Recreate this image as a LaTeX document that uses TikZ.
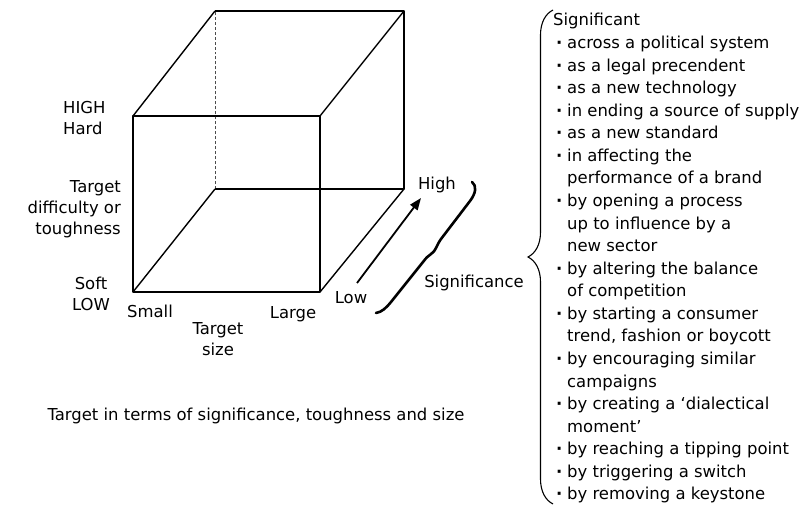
\documentclass[tikz,border=0pt]{standalone}
\usepackage{fontspec}
\setmainfont{DejaVu Sans}
\usetikzlibrary{decorations.pathreplacing,arrows.meta}
\begin{document}
\begin{tikzpicture}[x=1bp,y=-1bp,
  edge/.style={line width=1.4bp,line join=round},
  hidden/.style={line width=0.7bp,densely dashed,black!70},
  lbl/.style={inner sep=0,font=\fontsize{16.5}{21}\selectfont},
]
\useasboundingbox (0,0) rectangle (808,507);
% cube corners: front face
\coordinate (fbl) at (133,292);
\coordinate (fbr) at (320,292);
\coordinate (ftl) at (133,116);
\coordinate (ftr) at (320,116);
% back face
\coordinate (bbl) at (215,189);
\coordinate (bbr) at (404,189);
\coordinate (btl) at (215,11);
\coordinate (btr) at (404,11);
\draw[hidden] (bbl) -- (btl);
\draw[edge] (fbl) rectangle (ftr);
\draw[edge] (bbl) -- (bbr) -- (btr) -- (btl);
\draw[edge] (fbl) -- (bbl);
\draw[edge] (fbr) -- (bbr);
\draw[edge] (ftr) -- (btr);
\draw[edge] (ftl) -- (btl);

% axis labels
\node[lbl,align=left,anchor=west] (hard) at (63,118) {HIGH\\Hard};
\node[lbl,align=right,anchor=east] (tough) at (121,209) {Target\\difficulty or\\toughness};
\node[lbl,align=center] (soft) at (91,294) {Soft\\LOW};
\node[lbl] (small) at (150,311) {Small};
\node[lbl] (large) at (293,314) {Large};
\node[lbl,align=center] (tsize) at (218,339) {Target\\size};

% significance axis
\node[lbl] (high) at (437,185) {High};
\node[lbl] (low) at (351,298) {Low};
\coordinate (atail) at (357,283);
\coordinate (ahead) at (421,198);
\draw[line width=1.8bp,-{Triangle[length=12bp,width=9bp]}] (atail) -- (ahead);
% hand-drawn style brace
\coordinate (sbtop) at (472,182);
\coordinate (sbtip) at (431,254);
\coordinate (sbbot) at (376,313);
\draw[line width=2.6bp,line cap=round,line join=round]
  (sbtop) .. controls (477,186) and (476,193) .. (470,201)
  -- (441,239) .. controls (436,246) and (436,251) .. (sbtip)
  .. controls (428,256) and (426,258) .. (423,262)
  -- (391,302) .. controls (386,308) and (382,312) .. (sbbot);
\node[lbl] (signif) at (474,283) {Significance};

% caption
\node[lbl] (caption) at (256,416) {Target in terms of significance, toughness and size};

% list of ways to be significant
\coordinate (rb1) at (553,504);
\coordinate (rb2) at (553,10);
\draw[decorate,decoration={brace,amplitude=25bp,aspect=0.5},line width=1.1bp] (rb1) -- (rb2);
\newcommand{\bl}{\makebox[12bp][c]{\textbf{·}}}
\node[inner sep=0,anchor=north west,font=\fontsize{16.5}{22.65}\selectfont] (list) at (553,10) {%
\begin{tabular}{@{}l@{\hspace{2bp}}l@{}}
\multicolumn{2}{@{}l@{}}{Significant}\\
\bl & across a political system\\
\bl & as a legal precendent\\
\bl & as a new technology\\
\bl & in ending a source of supply\\
\bl & as a new standard\\
\bl & in affecting the\\
    & performance of a brand\\
\bl & by opening a process\\
    & up to influence by a\\
    & new sector\\
\bl & by altering the balance\\
    & of competition\\
\bl & by starting a consumer\\
    & trend, fashion or boycott\\
\bl & by encouraging similar\\
    & campaigns\\
\bl & by creating a ‘dialectical\\
    & moment’\\
\bl & by reaching a tipping point\\
\bl & by triggering a switch\\
\bl & by removing a keystone
\end{tabular}};
\end{tikzpicture}
\end{document}
